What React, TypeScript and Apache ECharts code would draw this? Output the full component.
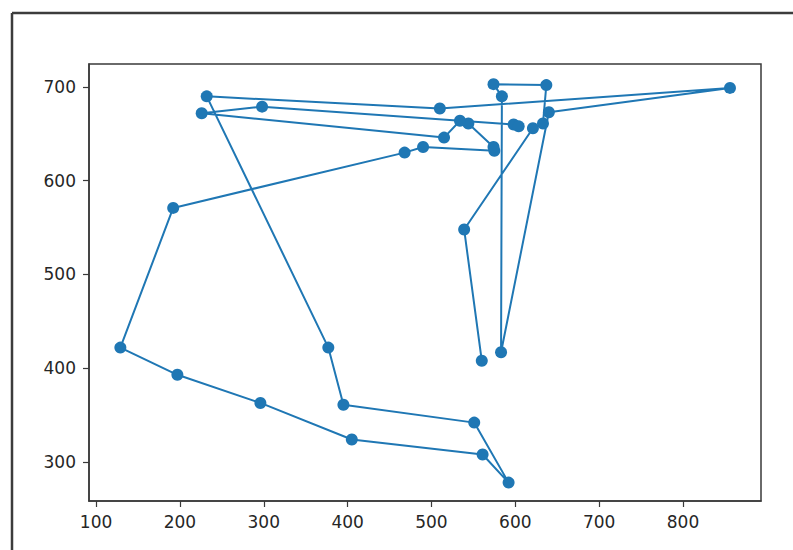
import React, { useEffect, useRef } from "react";
import * as echarts from "echarts";

// Points in drawing order
const xValues: number[] = [
  560, 539, 621, 633, 637, 574, 584, 583, 640, 856, 510, 232,
  377, 395, 551, 592, 561, 405, 296, 197, 129, 192,
  468, 490, 575, 574, 544, 534, 515, 226, 298, 598, 604,
];
const yValues: number[] = [
  408, 548, 656, 661, 702, 703, 690, 417, 673, 699, 677, 690,
  422, 361, 342, 278, 308, 324, 363, 393, 422, 571,
  630, 636, 632, 636, 661, 664, 646, 672, 679, 660, 658,
];

const xTickValues: number[] = [100, 200, 300, 400, 500, 600, 700, 800];
const yTickValues: number[] = [300, 400, 500, 600, 700];

const xMin = 91.6;
const xMax = 893;
const yMin = 258.4;
const yMax = 724.5;

export default function App() {
  const ref = useRef<HTMLDivElement>(null);

  useEffect(() => {
    if (!ref.current) return;
    const chart = echarts.init(ref.current, null, { renderer: "svg" });
    const data = xValues.map((x, i) => [x, yValues[i]]);
    const axisColor = "#3a3a3a";
    const labelStyle = {
      color: "#262626",
      fontFamily: "DejaVu Sans",
      fontSize: 17,
    };
    chart.setOption({
      animation: false,
      backgroundColor: "#ffffff",
      grid: {
        left: 89,
        top: 64,
        width: 672,
        height: 437,
        show: true,
        borderColor: axisColor,
        borderWidth: 1.5,
        backgroundColor: "transparent",
      },
      xAxis: {
        type: "value",
        min: xMin,
        max: xMax,
        splitLine: { show: false },
        axisLine: { show: true, onZero: false, lineStyle: { color: axisColor, width: 1.5 } },
        axisTick: {
          show: true,
          inside: false,
          length: 6,
          customValues: xTickValues,
          lineStyle: { color: axisColor, width: 1.2 },
        },
        axisLabel: {
          ...labelStyle,
          margin: 12,
          customValues: xTickValues,
          formatter: (v: number) => String(v),
        },
      },
      yAxis: {
        type: "value",
        min: yMin,
        max: yMax,
        splitLine: { show: false },
        axisLine: { show: true, onZero: false, lineStyle: { color: axisColor, width: 1.5 } },
        axisTick: {
          show: true,
          inside: false,
          length: 6,
          customValues: yTickValues,
          lineStyle: { color: axisColor, width: 1.2 },
        },
        axisLabel: {
          ...labelStyle,
          margin: 13,
          customValues: yTickValues,
          formatter: (v: number) => String(v),
        },
      },
      graphic: [
        {
          type: "line",
          shape: { x1: 12, y1: 13, x2: 793, y2: 13 },
          style: { stroke: "#3c3c3c", lineWidth: 2.5 },
          silent: true,
        },
        {
          type: "line",
          shape: { x1: 12, y1: 13, x2: 12, y2: 550 },
          style: { stroke: "#3c3c3c", lineWidth: 2.5 },
          silent: true,
        },
      ],
      series: [
        {
          type: "line",
          data,
          symbol: "circle",
          symbolSize: 12,
          showAllSymbol: true,
          itemStyle: { color: "#1f77b4" },
          lineStyle: { color: "#1f77b4", width: 2 },
          z: 3,
        },
      ],
    });
    return () => chart.dispose();
  }, []);

  return (
    <div
      ref={ref}
      style={{ position: "absolute", left: 0, top: 0, width: 793, height: 550 }}
    />
  );
}
